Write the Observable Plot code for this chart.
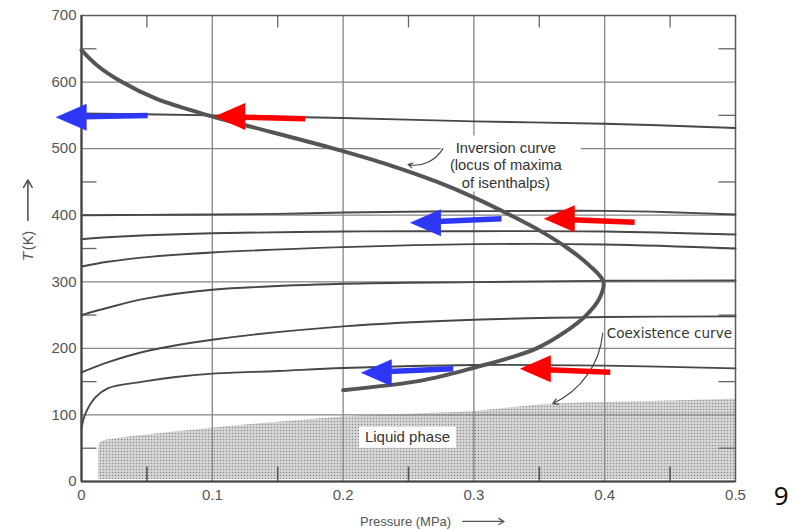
<!DOCTYPE html>
<html><head><meta charset="utf-8">
<script src="https://cdn.jsdelivr.net/npm/d3@7"></script>
<script src="https://cdn.jsdelivr.net/npm/@observablehq/plot@0.6"></script>
<style>
html,body{margin:0;padding:0;background:#fff;}
#chart{position:relative;width:793px;height:530px;}
</style></head><body><div id="chart"></div>
<script>
// ---------- axes ----------
const xTicks = [0, 0.1, 0.2, 0.3, 0.4, 0.5];
const yTicks = [0, 100, 200, 300, 400, 500, 600, 700];
const xGrid = [0.1, 0.2, 0.3, 0.4];
const yGrid = [100, 200, 300, 400, 500, 600];
const xMinor = [0.05, 0.15, 0.25, 0.35, 0.45];
const yMinor = [50, 150, 250, 350, 450, 550, 650];

// ---------- isenthalps (pressure MPa, temperature K) ----------
const iso1P = [0, 0.1, 0.2, 0.3, 0.4, 0.5];
const iso1T = [553, 550, 546, 541, 537.5, 531];
const iso2P = [0, 0.05, 0.1, 0.15, 0.2, 0.3, 0.4, 0.45, 0.5];
const iso2T = [400, 400.5, 401, 402, 404, 406, 406.5, 404.5, 401];
const iso3P = [0, 0.02, 0.05, 0.1, 0.2, 0.3, 0.4, 0.5];
const iso3T = [364, 367, 370, 373, 375.5, 376, 375.5, 371];
const iso4P = [0, 0.02, 0.05, 0.1, 0.2, 0.3, 0.4, 0.5];
const iso4T = [323, 330, 337, 344, 352, 356.5, 356, 350];
const iso5P = [0, 0.02, 0.05, 0.1, 0.2, 0.3, 0.4, 0.5];
const iso5T = [250, 261, 275, 288, 297, 299.5, 301.5, 302];
const iso6P = [0, 0.02, 0.05, 0.1, 0.2, 0.3, 0.4, 0.5];
const iso6T = [164, 179, 196, 213, 233, 243, 247, 248];
const iso7P = [0, 0.003, 0.011, 0.02, 0.047, 0.072, 0.1, 0.15, 0.2, 0.3, 0.4, 0.5];
const iso7T = [80, 102, 127, 140, 150, 157, 162, 166, 170.5, 175, 174, 170];

// ---------- inversion curve ----------
const invP = [0, 0.012, 0.031, 0.057, 0.097, 0.145, 0.193, 0.236, 0.272, 0.302, 0.328, 0.352, 0.372, 0.388, 0.399,
              0.396, 0.386, 0.370, 0.348, 0.326, 0.302, 0.279, 0.255, 0.2];
const invT = [648, 625, 600, 575, 550, 525, 500, 475, 450, 425, 400, 375, 350, 325, 300,
              275, 250, 225, 200, 185, 172, 160, 150, 137];

// ---------- liquid phase region (upper boundary) ----------
const liqP = [0.013, 0.014, 0.017, 0.025, 0.05, 0.1, 0.15, 0.2, 0.25, 0.3, 0.35, 0.4, 0.45, 0.5];
const liqT = [50, 57, 61, 64, 70, 80, 89, 97, 101, 105, 115, 119, 121, 124];
const liqBase = 3;

// ---------- coloured arrows ----------
const arrowColor = ["#2f37f6", "#ff0000", "#2f37f6", "#ff0000", "#2f37f6", "#ff0000"];
const arrowTailP = [0.0506, 0.171, 0.3211, 0.4229, 0.2842, 0.4043];
const arrowTailT = [549.7, 544.8, 394.6, 389.5, 169.3, 164.2];
const arrowTipP  = [-0.0198, 0.1015, 0.2511, 0.3534, 0.2135, 0.3351];
const arrowTipT  = [547, 548.3, 388.6, 394.6, 163.3, 169.3];

// ---------- texts ----------
const invLabel = "Inversion curve\n(locus of maxima\nof isenthalps)";
const coexLabel = "Coexistence curve";
const liqLabel = "Liquid phase";
const xLabel = "Pressure (MPa)";
const yLabelT = "T";
const yLabelK = "(K)";
const pageNo = "9";

// ---------- build tables ----------
const isoSets = [[iso1P, iso1T], [iso2P, iso2T], [iso3P, iso3T], [iso4P, iso4T], [iso5P, iso5T], [iso6P, iso6T], [iso7P, iso7T]];
const isoRows = isoSets.flatMap(([ps, ts], k) => ps.map((p, i) => ({p, t: ts[i], id: k})));
const invRows = invP.map((p, i) => ({p, t: invT[i]}));
const liqRows = liqP.map((p, i) => ({p, t: liqT[i]}));
const arrows = arrowColor.map((c, i) => {
  const tp = arrowTipP[i], tt = arrowTipT[i], sp = arrowTailP[i], st = arrowTailT[i];
  return {c, sp, st, tp, tt, ep: tp + 0.3 * (sp - tp), et: tt + 0.3 * (st - tt)};
});

// ---------- custom symbols ----------
const tickLeft = {draw(c) { c.moveTo(0, 0); c.lineTo(15, 0); }};
const tickRight = {draw(c) { c.moveTo(0, 0); c.lineTo(-17, 0); }};
const tickTop = {draw(c) { c.moveTo(0, 0); c.lineTo(0, 12); }};
const tickBottom = {draw(c) { c.moveTo(0, 0); c.lineTo(0, -15); }};
const head = {draw(c) { c.moveTo(0, 0); c.lineTo(31, -13.5); c.lineTo(31, 13.5); c.closePath(); }};
const box = (w, h) => ({draw(c) { c.rect(-w / 2, -h / 2, w, h); }});

const ink = "#474747";
const gridC = "#858585";

const svg = Plot.plot({
  width: 793, height: 530,
  marginLeft: 81, marginRight: 58, marginTop: 15, marginBottom: 49,
  x: {domain: [0, 0.5]},
  y: {domain: [0, 700]},
  style: {background: "white", fontFamily: "Liberation Sans, Arial, sans-serif", overflow: "visible"},
  marks: [
    // liquid phase
    Plot.areaY(liqRows, {x: "p", y1: liqBase, y2: "t", fill: "url(#stipple)", curve: "catmull-rom"}),
    // grid
    Plot.ruleX(xGrid, {stroke: gridC, strokeWidth: 1.3}),
    Plot.ruleY(yGrid, {stroke: gridC, strokeWidth: 1.3}),
    // minor ticks
    Plot.dot(yMinor, {y: d => d, frameAnchor: "left", symbol: tickLeft, fill: "none", stroke: "#666", strokeWidth: 1.3}),
    Plot.dot(yMinor, {y: d => d, frameAnchor: "right", symbol: tickRight, fill: "none", stroke: "#666", strokeWidth: 1.3}),
    Plot.dot(xMinor, {x: d => d, frameAnchor: "top", symbol: tickTop, fill: "none", stroke: "#666", strokeWidth: 1.3}),
    Plot.dot(xMinor, {x: d => d, frameAnchor: "bottom", symbol: tickBottom, fill: "none", stroke: "#555", strokeWidth: 1.6}),
    // frame
    Plot.frame({stroke: "#5a5a5a", strokeWidth: 1.5}),
    Plot.ruleX([0], {stroke: "#444", strokeWidth: 2.2}),
    Plot.ruleY([0], {stroke: "#444", strokeWidth: 2.2}),
    // axes
    Plot.axisX(xTicks, {tickSize: 0, tickPadding: 8, tickFormat: d => d === 0 ? "0" : d.toFixed(1), label: null, fontSize: 15, color: "#555"}),
    Plot.axisY(yTicks, {tickSize: 0, tickPadding: 5, tickFormat: d => String(d), label: null, fontSize: 15, color: "#555"}),
    // label backgrounds
    Plot.dot([{p: 0.3282, t: 477.7}], {x: "p", y: "t", symbol: box(140, 56), fill: "white", stroke: "none"}),
    Plot.dot([{p: 0.2492, t: 66.5}], {x: "p", y: "t", symbol: box(97, 21), fill: "white", stroke: "none"}),
    // isenthalps
    Plot.line(isoRows, {x: "p", y: "t", z: "id", stroke: ink, strokeWidth: 1.9, curve: "catmull-rom"}),
    // inversion curve
    Plot.line(invRows, {x: "p", y: "t", stroke: "#555", strokeWidth: 4, curve: "catmull-rom"}),
    // annotation texts
    Plot.text([invLabel], {x: 0.3244, y: 500.2, text: d => d, lineHeight: 1.2, lineAnchor: "top", dy: -8.5, fontSize: 14.8, fill: "#333"}),
    Plot.text([coexLabel], {x: 0.4015, y: 222, text: d => d, textAnchor: "start", fontSize: 13.6, fontFamily: "DejaVu Sans", fill: "#333", stroke: "white", strokeWidth: 3}),
    Plot.text([liqLabel], {x: 0.2492, y: 66.5, text: d => d, fontSize: 15, fill: "#333"}),
    // leaders
    Plot.arrow([0], {x1: 0.2763, y1: 500, x2: 0.2496, y2: 476, bend: 35, headLength: 7, stroke: "#444", strokeWidth: 1.1}),
    Plot.arrow([0], {x1: 0.3985, y1: 222.5, x2: 0.3603, y2: 117, bend: 30, headLength: 8, stroke: "#444", strokeWidth: 1.1}),
    // axis labels
    Plot.text([xLabel], {x: 0.213, y: -60, text: d => d, textAnchor: "start", fontSize: 13, fill: "#555"}),
    Plot.arrow([0], {x1: 0.2915, y1: -60, x2: 0.323, y2: -60, headLength: 7, stroke: "#555", strokeWidth: 1.3}),
    Plot.text([yLabelT], {x: -0.041, y: 338, text: d => d, rotate: -90, fontSize: 15.5, fontStyle: "italic", fill: "#555"}),
    Plot.text([yLabelK], {x: -0.041, y: 362, text: d => d, rotate: -90, fontSize: 14.5, fill: "#555"}),
    Plot.arrow([0], {x1: -0.041, y1: 392, x2: -0.041, y2: 453, headLength: 8, stroke: "#555", strokeWidth: 1.6}),
    // coloured arrows
    Plot.link(arrows, {x1: "sp", y1: "st", x2: "ep", y2: "et", stroke: "c", strokeWidth: 5.5}),
    Plot.dot(arrows, {x: "tp", y: "tt", symbol: head, fill: "c", stroke: "none"}),
    // page number
    Plot.text([pageNo], {x: 0.535, y: -22.5, text: d => d, fontSize: 26, fontFamily: "Noto Sans", fill: "#111"})
  ]
});

const defs = d3.select(svg).insert("defs", ":first-child");
const pat = defs.append("pattern").attr("id", "stipple").attr("patternUnits", "userSpaceOnUse").attr("width", 3).attr("height", 3);
pat.append("rect").attr("width", 3).attr("height", 3).attr("fill", "#d6d6d6");
pat.append("circle").attr("cx", 1.5).attr("cy", 1.5).attr("r", 0.75).attr("fill", "#8a8a8a");

document.getElementById("chart").appendChild(svg);
</script>
</body></html>
